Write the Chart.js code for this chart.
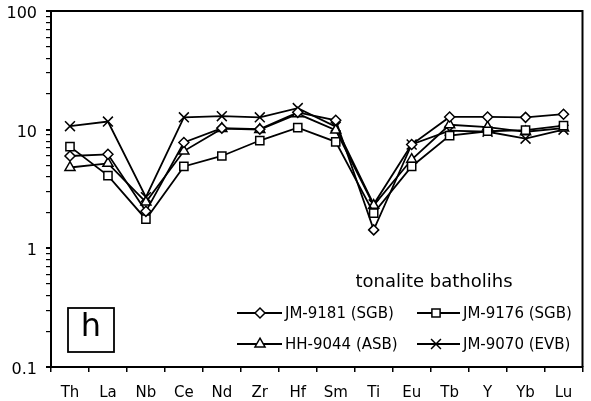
<!DOCTYPE html>
<html>
<head>
<meta charset="utf-8">
<script src="https://cdn.jsdelivr.net/npm/chart.js@4.4.0/dist/chart.umd.min.js"></script>
<style>
  html, body { margin: 0; padding: 0; background: #fff; }
  #wrap { width: 591px; height: 401px; }
</style>
</head>
<body>
<div id="wrap"><canvas id="spider" width="591" height="401"></canvas></div>
<script>
"use strict";

// element order on the x axis
var elements = ['Th', 'La', 'Nb', 'Ce', 'Nd', 'Zr', 'Hf', 'Sm', 'Ti', 'Eu', 'Tb', 'Y', 'Yb', 'Lu'];

// normalised abundances per sample
var jm9181 = [6.0, 6.2, 2.05, 7.8, 10.3, 10.1, 14.0, 12.0, 1.43, 7.5, 12.8, 12.8, 12.7, 13.5];
var jm9176 = [7.2, 4.1, 1.76, 4.9, 6.0, 8.1, 10.4, 7.9, 1.98, 4.9, 8.9, 9.7, 9.9, 10.8];
var hh9044 = [4.8, 5.2, 2.45, 6.6, 10.2, 10.0, 13.6, 9.9, 2.3, 5.6, 11.0, 10.5, 9.6, 10.3];
var jm9070 = [10.7, 11.7, 2.7, 12.7, 13.0, 12.7, 15.2, 10.6, 2.35, 7.5, 9.8, 9.6, 8.4, 10.0];

var sampleNames = ['JM-9181 (SGB)', 'JM-9176 (SGB)', 'HH-9044 (ASB)', 'JM-9070 (EVB)'];
var legendTitle = 'tonalite batholihs';
var panelLetter = 'h';

// labelled decades on the y axis
var yMajor = [0.1, 1, 10, 100];

var FONT = '"DejaVu Sans", Verdana, sans-serif';

function makeSet(label, values, style, radius) {
    return {
        label: label,
        data: values,
        borderColor: '#000',
        borderWidth: 1.8,
        pointStyle: style,
        pointRadius: radius,
        pointHoverRadius: radius,
        pointBackgroundColor: '#fff',
        pointBorderColor: '#000',
        pointBorderWidth: 1.5,
        fill: false,
        tension: 0
    };
}

// box round the plot area
var frame = {
    id: 'frame',
    afterDraw: function (chart) {
        var a = chart.chartArea;
        var ctx = chart.ctx;
        ctx.save();
        ctx.strokeStyle = '#000';
        ctx.lineWidth = 2;
        ctx.beginPath();
        ctx.moveTo(a.left, a.top);
        ctx.lineTo(a.right, a.top);
        ctx.lineTo(a.right, a.bottom);
        ctx.stroke();
        ctx.restore();
    }
};

// panel letter and the sample key inside the plot
var keyBox = {
    id: 'keyBox',
    afterDraw: function (chart) {
        var ctx = chart.ctx;
        ctx.save();

        // letter box
        ctx.strokeStyle = '#000';
        ctx.lineWidth = 1.8;
        ctx.strokeRect(68, 308, 46, 44);
        ctx.fillStyle = '#000';
        ctx.font = '32px ' + FONT;
        ctx.textAlign = 'center';
        ctx.textBaseline = 'middle';
        ctx.fillText(panelLetter, 91, 328);

        // key title
        ctx.font = '18px ' + FONT;
        ctx.fillText(legendTitle, 434, 282);

        // key rows
        var spots = [
            { x0: 237, x1: 282, mx: 260, tx: 285, y: 313 },
            { x0: 417, x1: 460, mx: 436, tx: 463, y: 313 },
            { x0: 237, x1: 282, mx: 260, tx: 285, y: 344 },
            { x0: 417, x1: 460, mx: 436, tx: 463, y: 344 }
        ];
        ctx.font = '15px ' + FONT;
        ctx.textAlign = 'left';
        chart.data.datasets.forEach(function (ds, i) {
            var s = spots[i];
            ctx.strokeStyle = '#000';
            ctx.lineWidth = 1.8;
            ctx.beginPath();
            ctx.moveTo(s.x0, s.y);
            ctx.lineTo(s.x1, s.y);
            ctx.stroke();
            ctx.fillStyle = '#fff';
            ctx.lineWidth = 1.5;
            Chart.helpers.drawPoint(ctx, {
                pointStyle: ds.pointStyle,
                radius: ds.pointRadius,
                rotation: 0,
                borderWidth: 1.5
            }, s.mx, s.y);
            ctx.fillStyle = '#000';
            ctx.fillText(sampleNames[i], s.tx, s.y + 1);
        });
        ctx.restore();
    }
};

var ctx = document.getElementById('spider').getContext('2d');
var chart = new Chart(ctx, {
    type: 'line',
    data: {
        labels: elements,
        datasets: [
            makeSet(sampleNames[0], jm9181, 'rectRot', 5),
            makeSet(sampleNames[1], jm9176, 'rect', 5.8),
            makeSet(sampleNames[2], hh9044, 'triangle', 5.8),
            makeSet(sampleNames[3], jm9070, 'crossRot', 7)
        ]
    },
    options: {
        responsive: false,
        animation: false,
        devicePixelRatio: 1,
        layout: { padding: { left: 0, right: 5, top: 11, bottom: 0 } },
        plugins: {
            legend: { display: false },
            tooltip: { enabled: false }
        },
        scales: {
            x: {
                type: 'category',
                offset: true,
                grid: {
                    offset: true,
                    drawOnChartArea: false,
                    drawTicks: true,
                    tickLength: 5,
                    color: '#000',
                    lineWidth: 1.5
                },
                border: { display: true, color: '#000', width: 2 },
                ticks: {
                    color: '#000',
                    padding: 12,
                    font: { family: FONT, size: 15 },
                    maxRotation: 0,
                    autoSkip: false
                },
                afterFit: function (scale) {
                    scale.height = 34;
                    scale.paddingLeft = 0;
                    scale.paddingRight = 0;
                }
            },
            y: {
                type: 'logarithmic',
                min: 0.1,
                max: 100,
                afterBuildTicks: function (scale) {
                    var list = [];
                    for (var d = 0; d < yMajor.length - 1; d++) {
                        for (var k = 1; k < 10; k++) {
                            list.push({ value: +(yMajor[d] * k).toPrecision(3) });
                        }
                    }
                    list.push({ value: yMajor[yMajor.length - 1] });
                    scale.ticks = list;
                },
                grid: {
                    drawOnChartArea: false,
                    drawTicks: true,
                    tickLength: 5,
                    color: '#000',
                    lineWidth: function (c) {
                        return yMajor.indexOf(c.tick && c.tick.value) >= 0 ? 2 : 1.2;
                    }
                },
                border: { display: true, color: '#000', width: 2 },
                ticks: {
                    color: '#000',
                    padding: 9,
                    labelOffset: 3,
                    autoSkip: false,
                    font: { family: FONT, size: 16 },
                    callback: function (v) {
                        return yMajor.indexOf(v) >= 0 ? String(v) : '';
                    }
                },
                afterFit: function (scale) {
                    scale.width = 51;
                    scale.paddingTop = 0;
                    scale.paddingBottom = 0;
                }
            }
        }
    },
    plugins: [frame, keyBox]
});
</script>
</body>
</html>
